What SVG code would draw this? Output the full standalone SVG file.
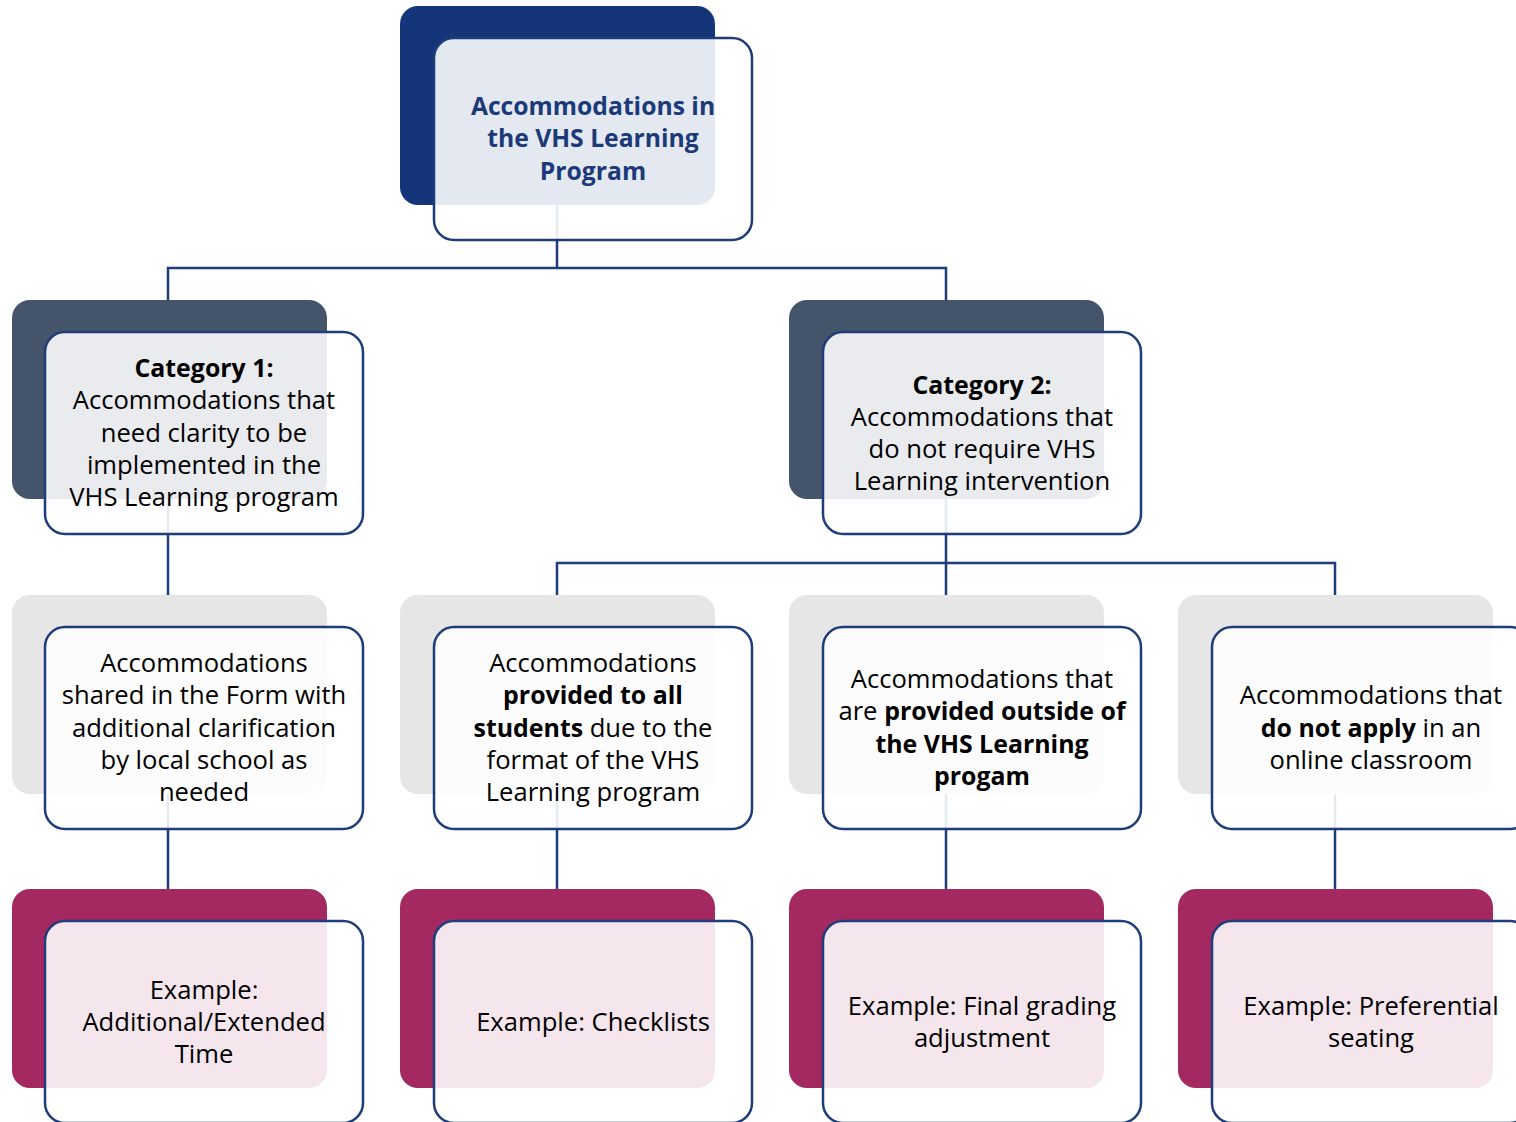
<svg xmlns="http://www.w3.org/2000/svg" width="1516" height="1122" viewBox="0 0 1516 1122">
<style>
.back{stroke:none}
.navy{fill:#14357a}
.slate{fill:#44546a}
.gray{fill:#e6e6e6}
.mag{fill:#a52961}
.front{fill:#ffffff;fill-opacity:0.885;stroke:#1f3d7a;stroke-width:2.5}
.conn{stroke:#1f3d7a;stroke-width:2.5;fill:none}
text{font-family:"Open Sans","Noto Sans","DejaVu Sans",sans-serif;font-size:25.6px;fill:#000;text-anchor:middle}
.title{font-weight:bold;fill:#1a3a7a;font-size:24.7px}
.b{font-weight:bold;font-size:24.9px}
</style>
<rect width="1516" height="1122" fill="#ffffff"/>
<g id="back-shapes">
<rect class="back navy" x="400" y="6" width="315" height="199" rx="18"/>
<rect class="back slate" x="12" y="300" width="315" height="199" rx="18"/>
<rect class="back slate" x="789" y="300" width="315" height="199" rx="18"/>
<rect class="back gray" x="12" y="595" width="315" height="199" rx="18"/>
<rect class="back gray" x="400" y="595" width="315" height="199" rx="18"/>
<rect class="back gray" x="789" y="595" width="315" height="199" rx="18"/>
<rect class="back gray" x="1178" y="595" width="315" height="199" rx="18"/>
<rect class="back mag" x="12" y="889" width="315" height="199" rx="18"/>
<rect class="back mag" x="400" y="889" width="315" height="199" rx="18"/>
<rect class="back mag" x="789" y="889" width="315" height="199" rx="18"/>
<rect class="back mag" x="1178" y="889" width="315" height="199" rx="18"/>
</g>
<g id="connectors">
<path class="conn" d="M557 205 V268 M168 300 V268 H946 V300"/>
<path class="conn" d="M168 499 V595"/>
<path class="conn" d="M946 499 V595 M557 595 V563 H1335 V595"/>
<path class="conn" d="M168 794 V889 M557 794 V889 M946 794 V889 M1335 794 V889"/>
</g>
<g id="root">
<rect class="front" x="434" y="38" width="318" height="202" rx="20"/>
<text class="title" x="593" y="115">Accommodations in</text>
<text class="title" x="593" y="147">the VHS Learning</text>
<text class="title" x="593" y="180">Program</text>
</g>
<g id="category1">
<rect class="front" x="45" y="332" width="318" height="202" rx="20"/>
<text x="204" y="377" class="b">Category 1:</text>
<text x="204" y="409">Accommodations that</text>
<text x="204" y="442">need clarity to be</text>
<text x="204" y="474">implemented in the</text>
<text x="204" y="506">VHS Learning program</text>
</g>
<g id="category2">
<rect class="front" x="823" y="332" width="318" height="202" rx="20"/>
<text x="982" y="394" class="b">Category 2:</text>
<text x="982" y="426">Accommodations that</text>
<text x="982" y="458">do not require VHS</text>
<text x="982" y="490">Learning intervention</text>
</g>
<g id="shared-form">
<rect class="front" x="45" y="627" width="318" height="202" rx="20"/>
<text x="204" y="672">Accommodations</text>
<text x="204" y="704">shared in the Form with</text>
<text x="204" y="737">additional clarification</text>
<text x="204" y="769">by local school as</text>
<text x="204" y="801">needed</text>
</g>
<g id="provided-all">
<rect class="front" x="434" y="627" width="318" height="202" rx="20"/>
<text x="593" y="672">Accommodations</text>
<text x="593" y="704" class="b">provided to all</text>
<text x="593" y="737"><tspan class="b">students</tspan> due to the</text>
<text x="593" y="769">format of the VHS</text>
<text x="593" y="801">Learning program</text>
</g>
<g id="provided-outside">
<rect class="front" x="823" y="627" width="318" height="202" rx="20"/>
<text x="982" y="688">Accommodations that</text>
<text x="982" y="720">are <tspan class="b">provided outside of</tspan></text>
<text x="982" y="753" class="b">the VHS Learning</text>
<text x="982" y="785" class="b">progam</text>
</g>
<g id="not-apply">
<rect class="front" x="1212" y="627" width="318" height="202" rx="20"/>
<text x="1371" y="704">Accommodations that</text>
<text x="1371" y="737"><tspan class="b">do not apply</tspan> in an</text>
<text x="1371" y="769">online classroom</text>
</g>
<g id="example-time">
<rect class="front" x="45" y="921" width="318" height="202" rx="20"/>
<text x="204" y="999">Example:</text>
<text x="204" y="1031">Additional/Extended</text>
<text x="204" y="1063">Time</text>
</g>
<g id="example-checklists">
<rect class="front" x="434" y="921" width="318" height="202" rx="20"/>
<text x="593" y="1031">Example: Checklists</text>
</g>
<g id="example-grading">
<rect class="front" x="823" y="921" width="318" height="202" rx="20"/>
<text x="982" y="1015">Example: Final grading</text>
<text x="982" y="1047">adjustment</text>
</g>
<g id="example-seating">
<rect class="front" x="1212" y="921" width="318" height="202" rx="20"/>
<text x="1371" y="1015">Example: Preferential</text>
<text x="1371" y="1047">seating</text>
</g>
</svg>
